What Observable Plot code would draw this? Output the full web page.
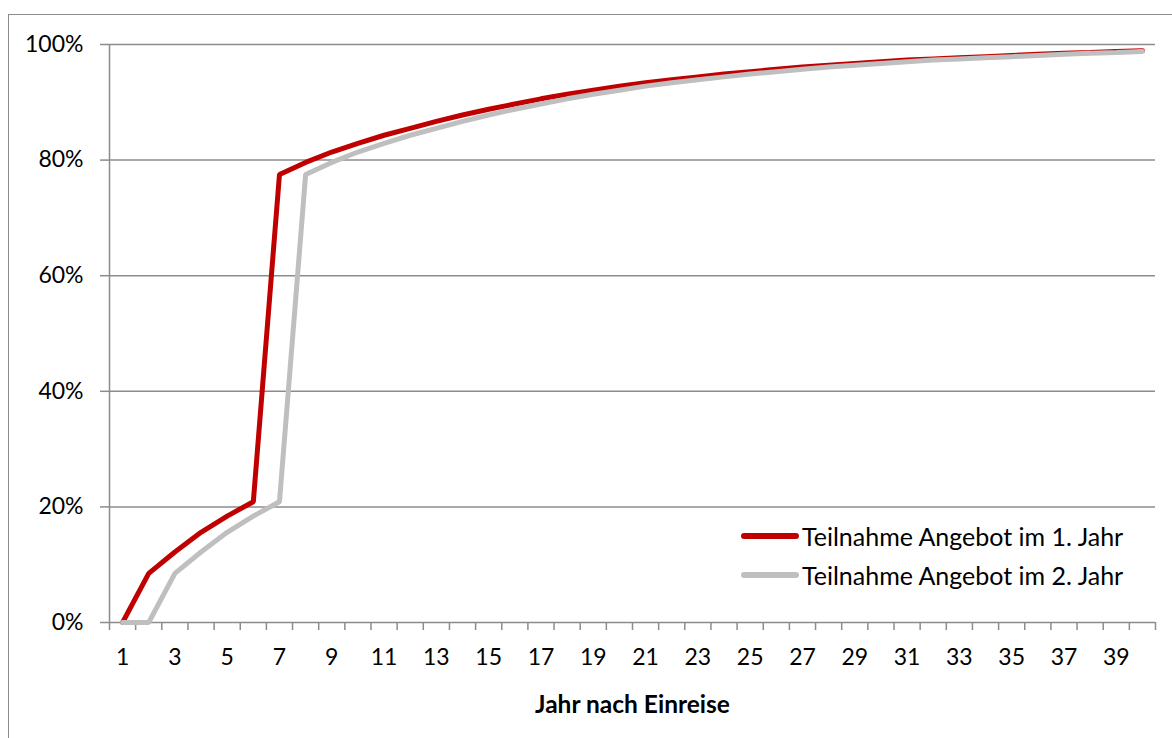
<!DOCTYPE html>
<html>
<head>
<meta charset="utf-8">
<script src="https://cdn.jsdelivr.net/npm/d3@7"></script>
<script src="https://cdn.jsdelivr.net/npm/@observablehq/plot@0.6"></script>
<style>
  html, body { margin: 0; padding: 0; background: #fff; overflow: hidden; }
  #wrap { position: relative; width: 1172px; height: 738px; font-family: Lato, "Open Sans", sans-serif; }
  #border { position: absolute; left: 8px; top: 14px; width: 1300px; height: 900px; border: 1.5px solid #8c8c8c; box-sizing: border-box; }
  #chart { position: absolute; left: 0; top: 0; }
  #legend { position: absolute; left: 741px; top: 516px; font-size: 25px; color: #000; }
  .item { display: flex; align-items: center; height: 39px; }
  .sw { width: 58px; height: 6px; border-radius: 3px; margin-right: 3px; }
</style>
</head>
<body>
<div id="wrap">
  <div id="border"></div>
  <div id="chart"></div>
  <div id="legend"></div>
</div>
<script>
// Categories: year after entry
const years = d3.range(1, 41);
// Series (percent): participation offer in year 1
const series1 = [0, 8.5, 12.2, 15.6, 18.4, 20.9, 77.5, 79.6, 81.4, 82.9,
  84.3, 85.5, 86.7, 87.8, 88.8, 89.7, 90.6, 91.4, 92.1, 92.8,
  93.4, 93.9, 94.4, 94.9, 95.3, 95.7, 96.1, 96.4, 96.7, 97.0,
  97.3, 97.5, 97.7, 97.9, 98.1, 98.3, 98.5, 98.6, 98.8, 98.9];
// Series (percent): participation offer in year 2
const series2 = [0, 0, 8.5, 12.2, 15.6, 18.4, 20.9, 77.5, 79.6, 81.4,
  82.9, 84.3, 85.5, 86.7, 87.8, 88.8, 89.7, 90.6, 91.4, 92.1,
  92.8, 93.4, 93.9, 94.4, 94.9, 95.3, 95.7, 96.1, 96.4, 96.7,
  97.0, 97.3, 97.5, 97.7, 97.9, 98.1, 98.3, 98.5, 98.6, 98.8];
const seriesNames = ["Teilnahme Angebot im 1. Jahr", "Teilnahme Angebot im 2. Jahr"];
const seriesColors = ["#C00000", "#BFBFBF"];
const yTicks = [0, 0.2, 0.4, 0.6, 0.8, 1.0];
const xLabelTicks = years.filter(d => d % 2 === 1);
const xTitle = "Jahr nach Einreise";

const rows = years.map((y, i) => ({year: y, s1: series1[i] / 100, s2: series2[i] / 100}));
const boundaries = [...years.map(d => d - 0.5), years[years.length - 1] + 0.5];

const gridColor = "#8c8c8c";
const plot = Plot.plot({
  width: 1172,
  height: 738,
  marginLeft: 109,
  marginRight: 17,
  marginTop: 44,
  marginBottom: 116,
  style: {fontFamily: "Lato, 'Open Sans', sans-serif", fontSize: "23px", color: "#000", background: "transparent"},
  x: {domain: [boundaries[0], boundaries[boundaries.length - 1]]},
  y: {domain: [0, 1]},
  marks: [
    Plot.gridY(yTicks.slice(1), {stroke: gridColor, strokeOpacity: 1, strokeWidth: 1.5}),
    Plot.ruleY([0], {stroke: gridColor, strokeWidth: 1.5}),
    Plot.ruleX([boundaries[0]], {stroke: gridColor, strokeWidth: 1.5}),
    Plot.axisY({ticks: yTicks, tickFormat: d3.format(".0%"), tickSize: 9, tickPadding: 17, stroke: gridColor, strokeWidth: 1.5, label: null, fontSize: 23}),
    Plot.axisX({ticks: boundaries, tickSize: 8, tickFormat: () => "", stroke: gridColor, strokeWidth: 1.5, label: null}),
    Plot.axisX({ticks: xLabelTicks, tickSize: 0, tickPadding: 26, fontSize: 23, label: xTitle, labelAnchor: "center", labelOffset: 90, labelArrow: "none"}),
    Plot.line(rows, {x: "year", y: "s1", stroke: seriesColors[0], strokeWidth: 5, strokeLinejoin: "miter", strokeLinecap: "round"}),
    Plot.line(rows, {x: "year", y: "s2", stroke: seriesColors[1], strokeWidth: 5, strokeLinejoin: "miter", strokeLinecap: "round"})
  ]
});
// bold, larger axis title
plot.querySelectorAll("g[aria-label='x-axis label']").forEach(el => {
  el.setAttribute("font-weight", "bold");
  el.setAttribute("font-size", "24.5px");
});
document.getElementById("chart").appendChild(plot);

const legend = document.getElementById("legend");
seriesNames.forEach((name, i) => {
  const it = document.createElement("div");
  it.className = "item";
  const sw = document.createElement("div");
  sw.className = "sw";
  sw.style.background = seriesColors[i];
  const t = document.createElement("span");
  t.textContent = name;
  it.appendChild(sw); it.appendChild(t);
  legend.appendChild(it);
});
</script>
</body>
</html>
